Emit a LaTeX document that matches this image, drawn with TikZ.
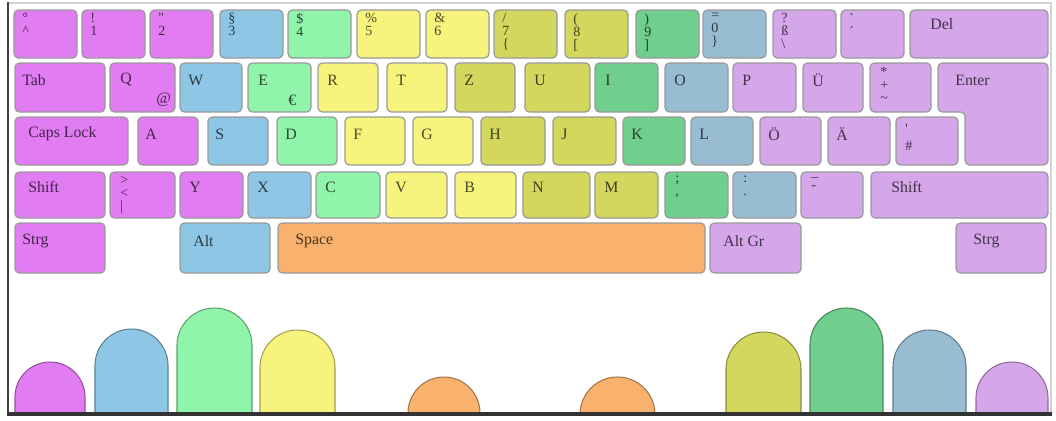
\documentclass[tikz,border=0pt]{standalone}
\usepackage{fontspec}
\setmainfont{Liberation Serif}[Ligatures=TeXOff]
\definecolor{pinkyL}{HTML}{E27CF2}
\definecolor{ringL}{HTML}{8EC6E6}
\definecolor{middleL}{HTML}{90F4AA}
\definecolor{indexL}{HTML}{F6F47C}
\definecolor{indexR}{HTML}{D4D75E}
\definecolor{middleR}{HTML}{70CF8C}
\definecolor{ringR}{HTML}{98BCD2}
\definecolor{pinkyR}{HTML}{D5A6EA}
\definecolor{thumb}{HTML}{F8B26E}
\begin{document}
\begin{tikzpicture}[x=0.02cm, y=0.02cm, yscale=-1,
    keyb/.style={draw=gray!80, line width=0.7pt, rounded corners=2.5pt},
    keylbl/.style={anchor=west, inner sep=0pt, align=left, font=\fontsize{9}{7.8}\selectfont},
    numlbl/.style={keylbl, anchor=north west, font=\fontsize{8}{7.4}\selectfont},
    finger/.style={line width=0.6pt}]
    \useasboundingbox (0,0) rectangle (1056,420);

    % Zahlenreihe
    \foreach \l/\c/\t [count=\i] in {14/pinkyL/{°\\\textasciicircum}, 82/pinkyL/{!\\1}, 150/pinkyL/{\symbol{34}\\2},
        220/ringL/{§\\3}, 288/middleL/{\$\\4}, 357/indexL/{\%\\5}, 426/indexL/{\&\\6},
        494/indexR/{/\\7\\\{}, 565/indexR/{(\\8\\{[}}, 636/middleR/{)\\9\\{]}}, 703/ringR/{=\\0\\\}},
        773/pinkyR/{?\\ß\\\textbackslash}, 841/pinkyR/{\symbol{96}\\´}} {
        \draw[keyb, fill=\c] (\l,10) rectangle ++(63,48);
        \node[numlbl, text=\c!30!black] (z\i) at (\l+8,13) {\t};
    }
    \draw[keyb, fill=pinkyR] (910,10) rectangle (1048,58);
    \node[keylbl, text=pinkyR!30!black] (del) at (930,24) {Del};

    % obere Buchstabenreihe
    \foreach \l/\r/\c/\o/\t [count=\i] in {15/105/pinkyL/7/Tab, 110/175/pinkyL/10/Q, 180/242/ringL/8/W,
        248/311/middleL/10/E, 318/378/indexL/9/R, 387/447/indexL/9/T, 455/515/indexR/9/Z,
        525/590/indexR/9/U, 595/658/middleR/10/I, 665/728/ringR/9/O, 733/796/pinkyR/9/P,
        803/863/pinkyR/9/Ü} {
        \draw[keyb, fill=\c] (\l,63) rectangle (\r,112);
        \node[keylbl, text=\c!30!black] (q\i) at (\l+\o,80) {\t};
    }
    \node[keylbl, text=pinkyL!30!black] (at) at (156,100) {@};
    \node[keylbl, text=middleL!30!black] (euro) at (288,100) {€};
    \draw[keyb, fill=pinkyR] (870,63) rectangle (931,112);
    \node[numlbl, text=pinkyR!30!black] (plus) at (880,67) {*\\+\\\textasciitilde};
    \draw[keyb, fill=pinkyR] (938,63) -- (1048,63) -- (1048,165) -- (965,165) -- (965,112) -- (938,112) -- cycle;
    \node[keylbl, text=pinkyR!30!black] (enter) at (955,80) {Enter};

    % mittlere Buchstabenreihe
    \foreach \l/\r/\c/\o/\t [count=\i] in {15/128/pinkyL/13/{Caps Lock}, 138/198/pinkyL/7/A, 208/268/ringL/7/S,
        277/337/middleL/8/D, 345/405/indexL/8/F, 413/473/indexL/8/G, 481/545/indexR/8/H,
        553/616/indexR/8/J, 623/685/middleR/8/K, 691/753/ringR/8/L, 760/821/pinkyR/8/Ö,
        828/890/pinkyR/8/Ä} {
        \draw[keyb, fill=\c] (\l,117) rectangle (\r,165);
        \node[keylbl, text=\c!30!black] (a\i) at (\l+\o,134) {\t};
    }
    \draw[keyb, fill=pinkyR] (896,117) rectangle (958,165);
    \node[numlbl, text=pinkyR!30!black] (hash) at (905,124) {'\\[2pt]\#};

    % untere Buchstabenreihe
    \foreach \l/\r/\c/\o/\t [count=\i] in {15/105/pinkyL/13/Shift, 180/243/pinkyL/9/Y, 248/311/ringL/9/X,
        316/380/middleL/9/C, 386/447/indexL/9/V, 455/516/indexL/9/B, 523/590/indexR/9/N,
        595/658/indexR/9/M, 871/1048/pinkyR/20/Shift} {
        \draw[keyb, fill=\c] (\l,172) rectangle (\r,218);
        \node[keylbl, text=\c!30!black] (y\i) at (\l+\o,187) {\t};
    }
    \foreach \l/\r/\c/\t [count=\i] in {110/175/pinkyL/{>\\<\\|}, 665/728/middleR/{;\\,},
        733/796/ringR/{:\\.}, 801/863/pinkyR/{\_\\-}} {
        \draw[keyb, fill=\c] (\l,172) rectangle (\r,218);
        \node[numlbl, text=\c!30!black] (s\i) at (\l+10,176) {\t};
    }

    % Leertastenreihe
    \foreach \l/\r/\c/\o/\t [count=\i] in {15/105/pinkyL/7/Strg, 180/270/ringL/13/Alt, 278/705/thumb/17/Space,
        710/801/pinkyR/13/{Alt Gr}, 956/1046/pinkyR/17/Strg} {
        \draw[keyb, fill=\c] (\l,223) rectangle (\r,273);
        \node[keylbl, text=\c!30!black] (b\i) at (\l+\o,241) {\t};
    }

    % Finger
    \foreach \l/\r/\tp/\c in {15/85/362/pinkyL, 95/168/329/ringL, 177/252/308/middleL, 260/335/330/indexL,
        408/480/377/thumb, 580/655/377/thumb, 726/801/332/indexR, 810/883/308/middleR,
        893/966/330/ringR, 976/1048/362/pinkyR} {
        \pgfmathsetmacro{\rad}{(\r-\l)/2}
        \draw[finger, draw=\c!65!black, fill=\c] (\l,414) -- (\l,\tp+\rad) arc (180:360:\rad) -- (\r,414);
    }

    % Rahmen
    \draw[gray!35, line width=0.8pt] (8,3) -- (1051,3) -- (1051,414);
    \draw[black!75, line width=1.2pt] (8,2) -- (8,414);
    \draw[black!80, line width=2pt] (7,414) -- (1052,414);
\end{tikzpicture}
\end{document}
